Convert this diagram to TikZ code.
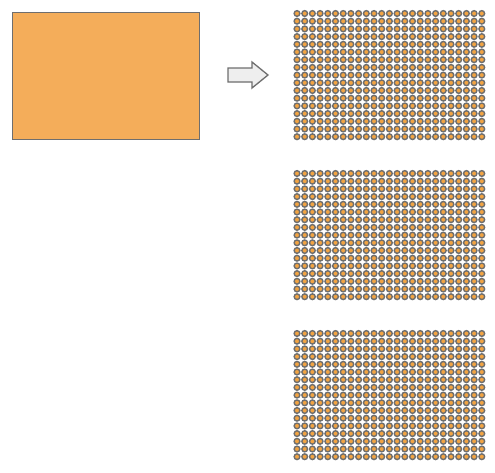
\documentclass[tikz,border=0pt]{standalone}
\usetikzlibrary{positioning}

\definecolor{boxorange}{HTML}{F4AD5A}
\definecolor{dotorange}{HTML}{F2A443}
\definecolor{edgegray}{HTML}{6E6E6E}
\definecolor{arrowfill}{HTML}{EEEEEE}

\begin{document}
\begin{tikzpicture}[%
    x=1pt, y=-1pt,
    block/.style={%
        draw=edgegray,
        fill=boxorange,
        line width=1pt,
        inner sep=0pt,
        minimum width=187pt,
        minimum height=127pt
    },
    pixel/.style={%
        draw=edgegray,
        fill=dotorange,
        circle,
        line width=1.4pt,
        inner sep=0pt,
        minimum size=5.7pt
    },
    bigarrow/.style={%
        draw=edgegray,
        fill=arrowfill,
        line width=1.3pt,
        line join=miter
    }
]

\useasboundingbox (0,0) rectangle (495,472);

% Source block
\node[block] (source) at (105.5,75.5) {};

% Arrow
\coordinate (tail) at (228,75);
\coordinate (tip) at (268,75);
\draw[bigarrow] (228,68) -- (252,68) -- (252,62) -- (tip)
    -- (252,88) -- (252,82) -- (228,82) -- cycle;

% Dot grids
\foreach \g in {0,1,2} {
    \foreach \i in {0,...,24} {
        \foreach \j in {0,...,16} {
            \node[pixel] (dot-\g-\i-\j) at ({297+7.7*\i},{13.5+7.7*\j+160*\g}) {};
        }
    }
}

\end{tikzpicture}
\end{document}
